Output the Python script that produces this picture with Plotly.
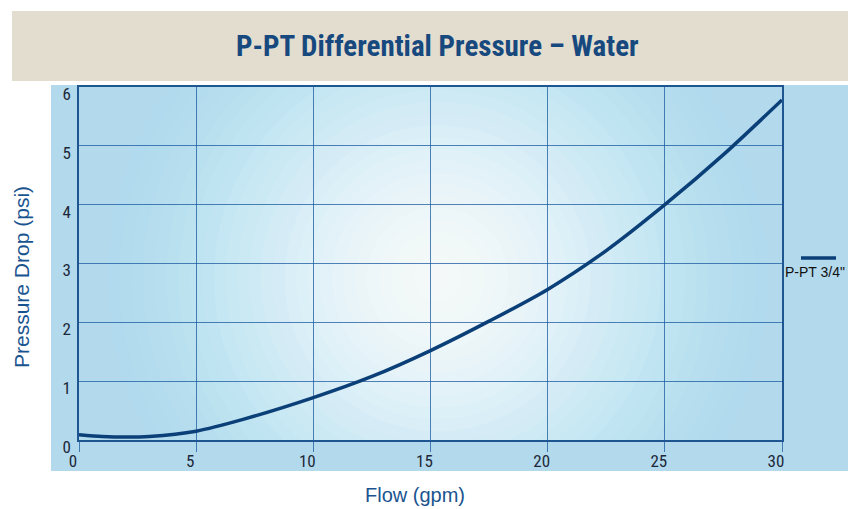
import plotly.graph_objects as go

flow = [0, 1, 2, 3, 5, 7, 10, 12.5, 15, 17.5, 20, 22.5, 25, 27.5, 30]
pressure = [0.09, 0.06, 0.05, 0.06, 0.15, 0.35, 0.72, 1.08, 1.52, 2.02, 2.56, 3.22, 4.0, 4.85, 5.78]
series_name = 'P-PT 3/4"'
x_ticks = [0, 5, 10, 15, 20, 25, 30]
y_ticks = [0, 1, 2, 3, 4, 5, 6]

NARROW = "Liberation Sans Narrow, Arial Narrow, Roboto Condensed, Liberation Sans, sans-serif"
SANS = "Liberation Sans, Arial, sans-serif"
GRID = "rgba(25,90,160,0.75)"
FRAME = "#1d5690"

fig = go.Figure()
fig.add_trace(go.Scatter(x=flow, y=pressure, mode="lines", name=series_name,
                         line=dict(color="#0b3f78", width=3.5, shape="spline", smoothing=0.8),
                         showlegend=False))

W, H = 703, 353
shapes = []
# title banner
shapes.append(dict(type="rect", xref="paper", yref="paper", x0=-67/W, x1=1.2,
                   y0=1 + 6/H, y1=1 + 76/H, fillcolor="#e3ddcf", line_width=0, layer="below"))
# outer blue panel
shapes.append(dict(type="rect", xref="paper", yref="paper", x0=-28/W, x1=1.2,
                   y0=-31/H, y1=1 + 2/H, fillcolor="#b3d9ed", line_width=0, layer="below"))
# radial glow (concentric ellipses clipped to the plot area)
cx, cy = 15.3, 2.75
xpp, ypp = 30 / W, 6 / H
N = 28
for i in range(N):
    t = i / (N - 1)
    r = 330 * (1 - i / N)
    c0, c1 = (176, 226, 243), (255, 255, 255)
    w = min(1.0, t * 1.6)
    col = tuple(int(c0[k] + (c1[k] - c0[k]) * w) for k in range(3))
    a = 0.16 if t < 0.35 else 0.12
    shapes.append(dict(type="circle", xref="x", yref="y",
                       x0=cx - r * xpp, x1=cx + r * xpp, y0=cy - r * ypp, y1=cy + r * ypp,
                       fillcolor="rgba(%d,%d,%d,%.2f)" % (col + (a,)), line_width=0, layer="below"))
# legend symbol
shapes.append(dict(type="line", xref="paper", yref="paper", x0=(801-79)/W, x1=(836-79)/W,
                   y0=(440-258)/H, y1=(440-258)/H, line=dict(color="#0b3f78", width=3.5)))

fig.update_layout(
    width=848, height=509,
    margin=dict(l=79, r=66, t=87, b=69),
    paper_bgcolor="white",
    plot_bgcolor="#afd7ec",
    shapes=shapes,
    annotations=[
        dict(text="<b>P-PT Differential Pressure – Water</b>", xref="paper", yref="paper",
             x=(437-79)/W, y=(440-46)/H, xanchor="center", yanchor="middle",
             showarrow=False, font=dict(family=NARROW, size=29, color="#17497f")),
        dict(text=series_name, xref="paper", yref="paper", x=(783-79)/W, y=(440-272)/H,
             xanchor="left", yanchor="middle", showarrow=False,
             font=dict(family=SANS, size=14, color="#111111")),
        dict(text="Flow (gpm)", xref="paper", yref="paper", x=(415-79)/W, y=(440-495)/H,
             xanchor="center", yanchor="middle", showarrow=False,
             font=dict(family=SANS, size=20, color="#1a5490")),
        dict(text="Pressure Drop (psi)", xref="paper", yref="paper", x=(21-79)/W, y=(440-277)/H,
             xanchor="center", yanchor="middle", textangle=-90, showarrow=False,
             font=dict(family=SANS, size=21, color="#1a5490")),
    ],
    xaxis=dict(range=[0, 30], tickvals=x_ticks, showgrid=True, gridcolor=GRID, gridwidth=1,
               showline=True, linecolor=FRAME, linewidth=1.5, mirror=True,
               ticks="outside", ticklen=10, tickcolor=GRID, tickwidth=1,
               ticklabelshift=-6, ticklabelstandoff=-5, automargin=False,
               tickfont=dict(family=NARROW, size=17, color="#1c2838"),
               zeroline=False),
    yaxis=dict(range=[0, 6], tickvals=y_ticks, showgrid=True, gridcolor=GRID, gridwidth=1,
               showline=True, linecolor=FRAME, linewidth=1.5, mirror=True,
               ticks="", ticklabelshift=7, ticklabelstandoff=3, automargin=False,
               tickfont=dict(family=NARROW, size=17, color="#1c2838"),
               zeroline=False),
)

fig.write_html("out.html", config={"displayModeBar": False},
               post_script="document.body.style.margin='0';document.body.style.overflow='hidden';")
